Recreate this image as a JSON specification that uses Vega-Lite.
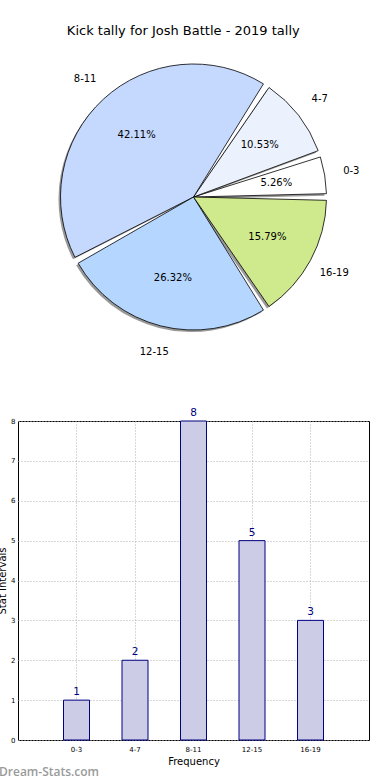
{
  "$schema": "https://vega.github.io/schema/vega-lite/v6.json",
  "padding": {"left": -3, "top": 25, "right": 0, "bottom": 0},
  "background": "white",
  "title": {"text": "Kick tally for Josh Battle - 2019 tally", "font": "DejaVu Sans", "fontSize": 13, "fontWeight": "normal", "color": "black", "anchor": "middle", "offset": 2},
  "datasets": {
    "tally": [
      {"range": "0-3", "idx": 1, "count": 1, "pct": "5.26%"},
      {"range": "4-7", "idx": 2, "count": 2, "pct": "10.53%"},
      {"range": "8-11", "idx": 3, "count": 8, "pct": "42.11%"},
      {"range": "12-15", "idx": 4, "count": 5, "pct": "26.32%"},
      {"range": "16-19", "idx": 5, "count": 3, "pct": "15.79%"}
    ]
  },
  "bounds": "flush",
  "spacing": 67,
  "config": {"font": "DejaVu Sans"},
  "vconcat": [
    {
      "width": 351,
      "height": 314,
      "view": {"stroke": null},
      "data": {"name": "tally"},
      "encoding": {
        "theta": {"field": "count", "type": "quantitative", "stack": true, "scale": {"range": [1.5708, -4.7124]}},
        "order": {"field": "idx", "type": "quantitative"}
      },
      "layer": [
        {
          "mark": {"type": "arc", "outerRadius": 133, "padAngle": 0.05, "fill": "#555555", "opacity": 0.6, "xOffset": -2, "yOffset": 2}
        },
        {
          "mark": {"type": "arc", "outerRadius": 133, "padAngle": 0.05, "stroke": "black", "strokeWidth": 0.8},
          "encoding": {
            "color": {"field": "range", "type": "nominal", "legend": null,
              "scale": {"domain": ["0-3", "4-7", "8-11", "12-15", "16-19"], "range": ["#ffffff", "#ebf2fe", "#c5d9fe", "#b5d6fe", "#cfe98d"]}}
          }
        },
        {
          "mark": {"type": "text", "radius": 84, "fontSize": 10, "color": "black"},
          "encoding": {"text": {"field": "pct"}}
        },
        {
          "mark": {"type": "text", "radius": 160, "fontSize": 10, "color": "black"},
          "encoding": {"text": {"field": "range"}}
        }
      ]
    },
    {
      "width": 351,
      "height": 319,
      "view": {"stroke": "black", "strokeWidth": 1},
      "title": {"text": "Dream-Stats.com", "orient": "bottom", "anchor": "start", "frame": "group", "dx": -19, "offset": 1, "font": "Open Sans", "fontSize": 12, "fontWeight": 600, "color": "#9a9a9a"},
      "data": {"name": "tally"},
      "encoding": {
        "x": {"field": "range", "type": "nominal", "sort": ["0-3", "4-7", "8-11", "12-15", "16-19"],
          "scale": {"paddingInner": 0, "paddingOuter": 0.5},
          "axis": {"title": "Frequency", "titleFontSize": 10, "titleFontWeight": "normal", "titlePadding": 4, "labelFontSize": 7, "labelAngle": 0, "labelPadding": 5, "ticks": false, "domain": false,
            "grid": true, "gridColor": "#b0b0b0", "gridDash": [1, 2], "gridWidth": 1, "labelColor": "black", "titleColor": "black"}},
        "y": {"field": "count", "type": "quantitative",
          "scale": {"domain": [0, 8], "nice": false},
          "axis": {"title": "Stat Intervals", "values": [0, 1, 2, 3, 4, 5, 6, 7, 8], "titleFontSize": 10, "titleFontWeight": "normal", "titlePadding": 3, "labelFontSize": 7, "labelPadding": 3, "ticks": false, "domain": false,
            "grid": true, "gridColor": "#b0b0b0", "gridDash": [1, 2], "gridWidth": 1, "labelColor": "black", "titleColor": "black"}}
      },
      "layer": [
        {
          "mark": {"type": "bar", "width": 26, "fill": "#ccccE6", "stroke": "#000080", "strokeWidth": 1}
        },
        {
          "mark": {"type": "text", "baseline": "bottom", "dy": -3, "fontSize": 10.5, "color": "#000080"},
          "encoding": {"text": {"field": "count", "type": "quantitative"}}
        }
      ]
    }
  ]
}
